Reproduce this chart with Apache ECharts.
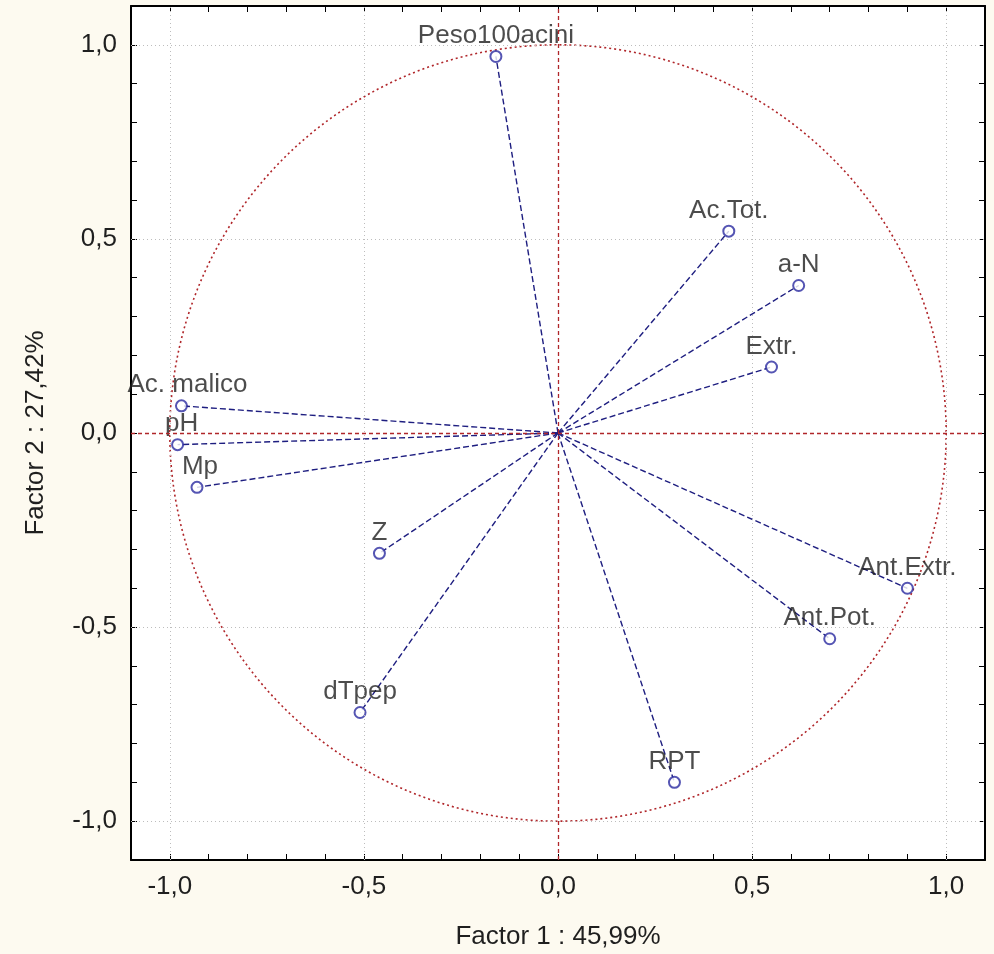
<!DOCTYPE html>
<html><head><meta charset="utf-8">
<script src="https://cdn.jsdelivr.net/npm/echarts@6/dist/echarts.min.js"></script>
<style>html,body{margin:0;padding:0;background:#fdfaf0;}#c{width:994px;height:954px;}</style>
</head><body><div id="c"></div>
<script>
// ---- data ----
const variables = ['Peso100acini','Ac.Tot.','a-N','Extr.','Ac. malico','pH','Mp','Z','dTpep','RPT','Ant.Pot.','Ant.Extr.'];
const factor1 = [-0.16, 0.44, 0.62, 0.55, -0.97, -0.98, -0.93, -0.46, -0.51, 0.30, 0.70, 0.90];
const factor2 = [0.97, 0.52, 0.38, 0.17, 0.07, -0.03, -0.14, -0.31, -0.72, -0.90, -0.53, -0.40];
const tickValues = [-1.0, -0.5, 0.0, 0.5, 1.0];
const circleRadius = 1;
const xTitle = 'Factor 1 : 45,99%';
const yTitle = 'Factor 2 : 27,42%';

// ---- styling ----
const FONT = 'Liberation Sans';
const NAVY = '#1e1e80';
const RED = '#b0262a';
const TEXT = '#1f1f1f';
const labelOffsets = { 'Mp': [3, 0], 'Ac. malico': [6, 0], 'pH': [4, 0] };

function fmt(v) {
  const r = Math.round(v * 10) / 10;
  if (!tickValues.some(t => Math.abs(t - r) < 1e-9)) return '';
  let s = r.toFixed(1).replace('.', ',');
  if (s === '-0,0') s = '0,0';
  return s;
}

function axisCommon(pos, showLabel) {
  return {
    type: 'value', position: pos, min: -1.1, max: 1.1, interval: 0.1,
    axisLine: { show: true, onZero: false, lineStyle: { color: '#000', width: 2 } },
    axisTick: { show: true, inside: true, length: 6, lineStyle: { color: '#000', width: 1 } },
    axisLabel: { show: showLabel, formatter: fmt, fontFamily: FONT, fontSize: 26, color: TEXT },
    splitLine: { show: false }
  };
}

const xMain = axisCommon('bottom', true);
xMain.axisLabel.margin = 14;
xMain.name = xTitle; xMain.nameLocation = 'middle'; xMain.nameGap = 64;
xMain.nameTextStyle = { fontFamily: FONT, fontSize: 26, color: TEXT };
const xTop = axisCommon('top', false);

const yMain = axisCommon('left', true);
yMain.axisLabel.margin = 14;
yMain.name = yTitle; yMain.nameLocation = 'middle'; yMain.nameGap = 82;
yMain.nameTextStyle = { fontFamily: FONT, fontSize: 26, color: TEXT };
const yRight = axisCommon('right', false);

const pointData = variables.map((n, i) => {
  const d = { name: n, value: [factor1[i], factor2[i]] };
  if (labelOffsets[n]) d.label = { offset: labelOffsets[n] };
  return d;
});

const gridLineData = [];
tickValues.filter(t => t !== 0).forEach(t => { gridLineData.push({ xAxis: t }); gridLineData.push({ yAxis: t }); });

const chart = echarts.init(document.getElementById('c'), null, { renderer: 'canvas' });
chart.setOption({
  backgroundColor: '#fdfaf0',
  animation: false,
  grid: { left: 131, top: 6, right: 9, bottom: 94, show: true, backgroundColor: '#ffffff', borderWidth: 0,
          containLabel: false, outerBoundsMode: 'none' },
  xAxis: [xMain, xTop],
  yAxis: [yMain, yRight],
  series: [
    { // grid lines + origin lines + unit circle
      type: 'custom', xAxisIndex: 0, yAxisIndex: 0, z: 1, silent: true,
      data: [[0, 0, circleRadius]],
      renderItem: function (params, api) {
        const c = api.coord([api.value(0), api.value(1)]);
        const r = api.size([api.value(2), 0])[0];
        return { type: 'circle', shape: { cx: c[0], cy: c[1], r: r },
          style: { fill: null, stroke: RED, lineWidth: 1.6, lineDash: [2, 3] } };
      },
      markLine: {
        silent: true, symbol: ['none', 'none'], label: { show: false },
        lineStyle: { color: '#bdbdbd', type: [1, 3], width: 1 },
        data: gridLineData.concat([
          { xAxis: 0, lineStyle: { color: RED, type: [4, 3], width: 1.3 } },
          { yAxis: 0, lineStyle: { color: RED, type: [4, 3], width: 1.3 } }
        ])
      }
    },
    { // vectors from origin
      type: 'custom', xAxisIndex: 0, yAxisIndex: 0, z: 3, silent: true,
      data: variables.map((n, i) => [factor1[i], factor2[i]]),
      renderItem: function (params, api) {
        const o = api.coord([0, 0]);
        const p = api.coord([api.value(0), api.value(1)]);
        return { type: 'line', shape: { x1: o[0], y1: o[1], x2: p[0], y2: p[1] },
          style: { stroke: NAVY, lineWidth: 1.4, lineDash: [6, 3] } };
      }
    },
    {
      type: 'scatter', xAxisIndex: 0, yAxisIndex: 0, z: 4,
      symbol: 'emptyCircle', symbolSize: 11,
      itemStyle: { color: '#2a2aa0', borderWidth: 1.6 },
      label: { show: true, position: 'top', distance: 1, formatter: '{b}',
        fontFamily: FONT, fontSize: 26, color: TEXT },
      data: pointData
    }
  ]
});
</script></body></html>
